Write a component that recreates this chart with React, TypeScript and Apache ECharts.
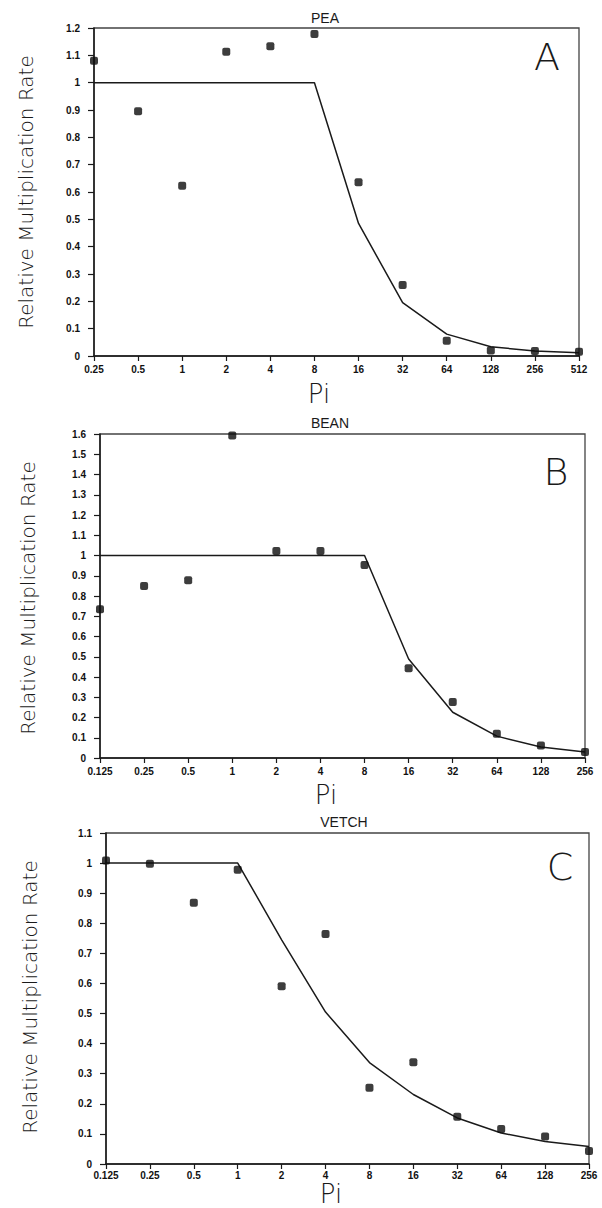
import React, { useEffect, useRef } from "react";
import * as echarts from "echarts";

// ---- Data ----
const peaPi = ["0.25", "0.5", "1", "2", "4", "8", "16", "32", "64", "128", "256", "512"];
const peaObserved = [1.08, 0.895, 0.623, 1.113, 1.133, 1.178, 0.636, 0.26, 0.056, 0.02, 0.018, 0.016];
const peaFitted = [1, 1, 1, 1, 1, 1, 0.485, 0.195, 0.08, 0.034, 0.018, 0.012];

const beanPi = ["0.125", "0.25", "0.5", "1", "2", "4", "8", "16", "32", "64", "128", "256"];
const beanObserved = [0.735, 0.85, 0.878, 1.593, 1.022, 1.022, 0.953, 0.443, 0.276, 0.12, 0.062, 0.03];
const beanFitted = [1, 1, 1, 1, 1, 1, 1, 0.489, 0.226, 0.108, 0.054, 0.03];

const vetchPi = ["0.125", "0.25", "0.5", "1", "2", "4", "8", "16", "32", "64", "128", "256"];
const vetchObserved = [1.009, 0.998, 0.868, 0.978, 0.591, 0.764, 0.253, 0.338, 0.157, 0.116, 0.091, 0.043];
const vetchFitted = [1, 1, 1, 1, 0.745, 0.505, 0.337, 0.231, 0.153, 0.103, 0.075, 0.058];

const panelTitles = ["PEA", "BEAN", "VETCH"];
const panelLetters = ["A", "B", "C"];
const yMax = [1.2, 1.6, 1.1];
const yName = "Relative Multiplication Rate";
const xName = "Pi";

const INK = "#1a1a1a";

function buildOption() {
  const grids = [
    { left: 94, top: 28, width: 485, height: 328 },
    { left: 100, top: 434, width: 485, height: 324 },
    { left: 106, top: 833, width: 483, height: 331 },
  ];
  const cats = [peaPi, beanPi, vetchPi];
  const obs = [peaObserved, beanObserved, vetchObserved];
  const fit = [peaFitted, beanFitted, vetchFitted];
  const xLabelMargin = [8, 8, 6];

  const tickFont = {
    fontSize: 10,
    fontWeight: "bold" as const,
    color: "#111",
    fontFamily: "Liberation Sans, Arial, sans-serif",
  };

  const xAxes = grids.map((g, i) => ({
    type: "category",
    gridIndex: i,
    data: cats[i],
    boundaryGap: false,
    axisLine: { show: true, lineStyle: { color: INK, width: 1.5 } },
    axisTick: { show: true, length: 5, lineStyle: { color: INK, width: 1.2 } },
    axisLabel: { ...tickFont, margin: xLabelMargin[i], interval: 0, hideOverlap: false },
    splitLine: { show: false },
  }));

  const yAxes = grids.map((g, i) => ({
    type: "value",
    gridIndex: i,
    min: 0,
    max: yMax[i],
    interval: 0.1,
    axisLine: { show: true, lineStyle: { color: INK, width: 1.5 } },
    axisTick: { show: true, length: 6, lineStyle: { color: INK, width: 1.2 } },
    axisLabel: { ...tickFont, margin: 14 },
    splitLine: { show: false },
  }));

  const series: any[] = [];
  for (let i = 0; i < 3; i++) {
    series.push({
      type: "line",
      xAxisIndex: i,
      yAxisIndex: i,
      data: fit[i],
      symbol: "none",
      clip: false,
      lineStyle: { color: INK, width: 1.5 },
      z: 3,
    });
    series.push({
      type: "scatter",
      xAxisIndex: i,
      yAxisIndex: i,
      data: obs[i],
      symbol: "roundRect",
      symbolSize: 8,
      clip: false,
      itemStyle: { color: "#0d0d0d" },
      z: 4,
    });
  }

  const yNamePos = [
    { x: 26, y: 192 },
    { x: 28, y: 598 },
    { x: 30, y: 997 },
  ];
  const piPos = [
    { x: 319, y: 394 },
    { x: 326, y: 795 },
    { x: 331, y: 1194 },
  ];
  const titlePos = [
    { x: 325, y: 18 },
    { x: 330, y: 423 },
    { x: 344, y: 822 },
  ];
  const letterPos = [
    { x: 547, y: 57 },
    { x: 556, y: 472 },
    { x: 560, y: 867 },
  ];

  const graphic: any[] = [];
  for (let i = 0; i < 3; i++) {
    graphic.push({
      type: "text",
      x: titlePos[i].x,
      y: titlePos[i].y,
      style: {
        text: panelTitles[i],
        fill: INK,
        font: "normal 14px 'Liberation Sans', Arial, sans-serif",
        align: "center",
        verticalAlign: "middle",
      },
    });
    graphic.push({
      type: "text",
      x: letterPos[i].x,
      y: letterPos[i].y,
      style: {
        text: panelLetters[i],
        fill: INK,
        font: "200 38px 'DejaVu Sans', sans-serif",
        align: "center",
        verticalAlign: "middle",
      },
    });
    graphic.push({
      type: "text",
      x: piPos[i].x,
      y: piPos[i].y,
      style: {
        text: xName,
        fill: INK,
        font: "200 26px 'DejaVu Sans', sans-serif",
        align: "center",
        verticalAlign: "middle",
      },
    });
    graphic.push({
      type: "text",
      x: yNamePos[i].x,
      y: yNamePos[i].y,
      rotation: Math.PI / 2,
      style: {
        text: yName,
        fill: INK,
        font: "200 20px 'DejaVu Sans', sans-serif",
        align: "center",
        verticalAlign: "middle",
      },
    });
  }

  return {
    animation: false,
    backgroundColor: "#ffffff",
    grid: grids.map((g) => ({
      ...g,
      show: true,
      borderColor: "#444",
      borderWidth: 1.3,
      backgroundColor: "transparent",
    })),
    xAxis: xAxes,
    yAxis: yAxes,
    series,
    graphic,
  };
}

export default function App() {
  const ref = useRef<HTMLDivElement>(null);
  useEffect(() => {
    if (!ref.current) return;
    const chart = echarts.init(ref.current, null, { renderer: "svg" });
    chart.setOption(buildOption() as any);
    return () => chart.dispose();
  }, []);
  return (
    <div
      ref={ref}
      style={{ position: "absolute", left: 0, top: 0, width: 602, height: 1208, background: "#fff" }}
    />
  );
}
